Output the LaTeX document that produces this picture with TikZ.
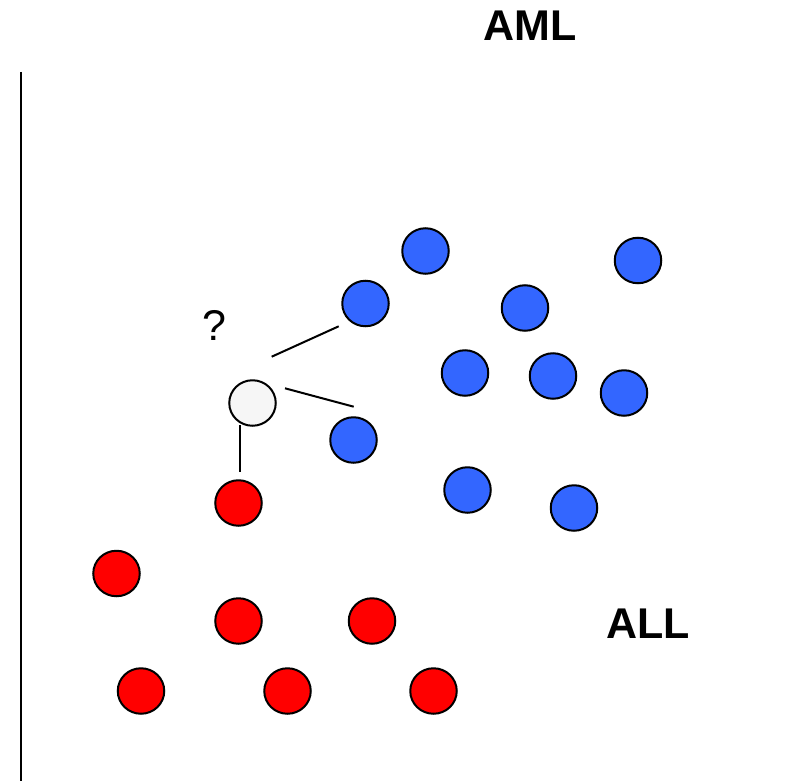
\documentclass[tikz,border=0pt]{standalone}
\usepackage{fontspec}
\setmainfont{Liberation Sans}
\usetikzlibrary{shapes.geometric}
\definecolor{dotblue}{RGB}{51,102,255}
\definecolor{dotred}{RGB}{255,0,0}
\definecolor{dotgray}{RGB}{246,246,246}
\tikzset{
  dot/.style={ellipse, draw=black, line width=2pt, inner sep=0pt, minimum width=46.5pt, minimum height=45.5pt},
  bluedot/.style={dot, fill=dotblue},
  reddot/.style={dot, fill=dotred},
  graydot/.style={dot, fill=dotgray},
  lbl/.style={font=\fontsize{43}{50}\selectfont\bfseries, inner sep=0pt},
  link/.style={line width=2pt}
}
\begin{document}
\begin{tikzpicture}[x=1pt,y=-1pt]
\useasboundingbox (0,0) rectangle (791,781);
% axis line
\coordinate (axtop) at (21,72);
\coordinate (axbot) at (21,781);
\draw[line width=2pt] (axtop) -- (axbot);
% labels
\node[lbl] (aml) at (530,26) {AML};
\node[lbl] (all) at (648,624) {ALL};
\node[font=\fontsize{43}{50}\selectfont, inner sep=0pt] (q) at (214,325) {?};
% blue dots
\node[bluedot] (b1) at (425.5,251) {};
\node[bluedot] (b2) at (638,260.5) {};
\node[bluedot] (b3) at (365.5,303.5) {};
\node[bluedot] (b4) at (525,308) {};
\node[bluedot] (b5) at (465,373) {};
\node[bluedot] (b6) at (553,376) {};
\node[bluedot] (b7) at (624,393) {};
\node[bluedot] (b8) at (353.5,440) {};
\node[bluedot] (b9) at (467.5,490) {};
\node[bluedot] (b10) at (574,508) {};
% unknown dot
\node[graydot] (g) at (252.5,403) {};
% red dots
\node[reddot] (r1) at (238.5,503) {};
\node[reddot] (r2) at (116.5,573.5) {};
\node[reddot] (r3) at (238.5,621) {};
\node[reddot] (r4) at (372,621) {};
\node[reddot] (r5) at (141,691) {};
\node[reddot] (r6) at (287.5,691) {};
\node[reddot] (r7) at (433.5,691) {};
% neighbour lines
\coordinate (l1a) at (271.7,356.7);
\coordinate (l1b) at (338.7,326.3);
\coordinate (l2a) at (285,388.3);
\coordinate (l2b) at (353.7,406.7);
\coordinate (l3a) at (240,425);
\coordinate (l3b) at (240,471.7);
\draw[link] (l1a) -- (l1b);
\draw[link] (l2a) -- (l2b);
\draw[link] (l3a) -- (l3b);
\end{tikzpicture}
\end{document}
